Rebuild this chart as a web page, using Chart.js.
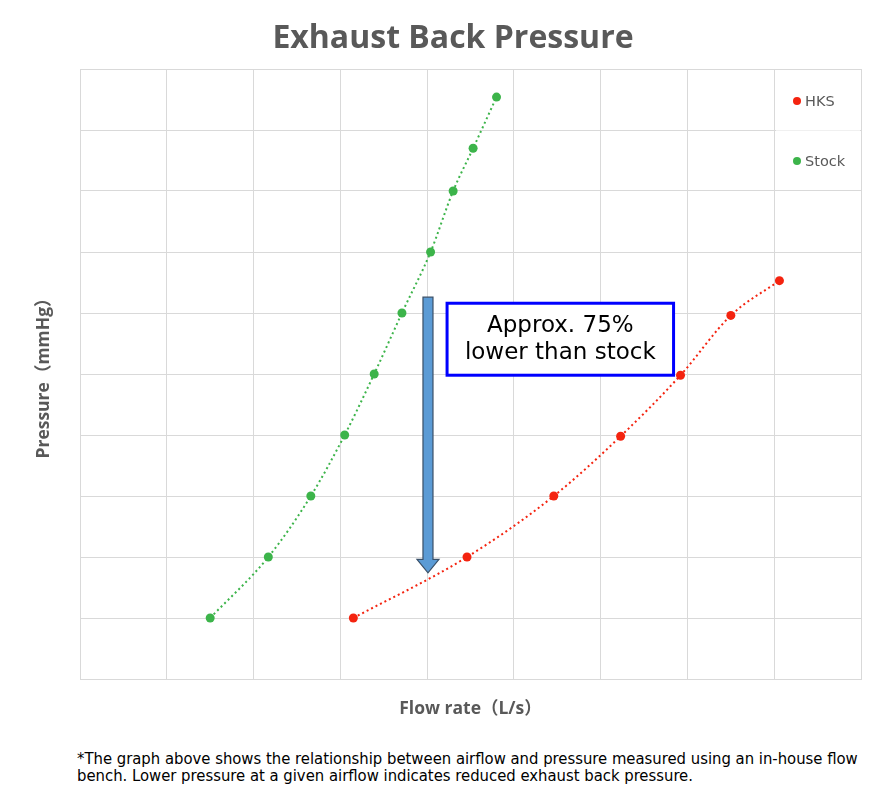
<!DOCTYPE html>
<html><head><meta charset="utf-8">
<script src="https://cdn.jsdelivr.net/npm/chart.js@4"></script>
<style>
html,body{margin:0;padding:0;background:#fff;}
#wrap{position:relative;width:882px;height:800px;overflow:hidden;}
#title{position:absolute;left:0;top:15px;width:906px;text-align:center;font-family:"Open Sans",sans-serif;font-weight:bold;font-size:32px;line-height:42px;color:#595959;}
#chart{position:absolute;left:0;top:0;}
#note{position:absolute;left:77px;top:750px;width:805px;font-family:"Liberation Sans Narrow","DejaVu Sans Condensed",sans-serif;font-size:16.5px;line-height:17px;color:#000;white-space:nowrap;}
</style></head>
<body>
<div id="wrap">
<canvas id="chart" width="882" height="740"></canvas>
<div id="title">Exhaust Back Pressure</div>
<div id="note">*The graph above shows the relationship between airflow and pressure measured using an in-house flow<br>bench. Lower pressure at a given airflow indicates reduced exhaust back pressure.</div>
</div>
<script>
// ---- data (axis units are arbitrary, no tick labels shown) ----
const seriesNames = ['HKS', 'Stock'];
const hksFlow = [31.5, 44.6, 54.6, 62.3, 69.2, 75.0, 80.6];
const hksPressure = [10, 20, 30, 39.8, 49.8, 59.6, 65.3];
const stockFlow = [15.0, 21.7, 26.6, 30.5, 33.9, 37.1, 40.4, 43.0, 45.3, 48.0];
const stockPressure = [10, 20, 30, 40, 50, 60, 70, 80, 87, 95.4];

const toPts = (xs, ys) => xs.map((x, i) => ({x: x, y: ys[i]}));

const RED = '#F4230F', GREEN = '#3CB44A', GRID = '#d9d9d9', TXT = '#595959';
const FONT = '"Open Sans", "Noto Sans CJK JP", sans-serif';

const arrowAnno = {flow: 40.1, from: 62.6, to: 17.4, head: 19.6};
const boxAnno = {x1: 42.3, x2: 68.4, y1: 61.6, y2: 49.8, lines: ['Approx. 75%', 'lower than stock']};

const legendPlugin = {
  id: 'insideLegend',
  afterDraw(chart) {
    const {ctx, chartArea} = chart;
    ctx.save();
    ctx.fillStyle = 'rgba(255,255,255,0.6)';
    ctx.fillRect(chartArea.right - 85, chartArea.top + 1, 84, 115);
    chart.data.datasets.forEach((ds, i) => {
      const y = chartArea.top + 32 + i * 60;
      const x = chartArea.right - 64;
      ctx.beginPath();
      ctx.arc(x, y, 4, 0, Math.PI * 2);
      ctx.fillStyle = ds.backgroundColor;
      ctx.fill();
      ctx.fillStyle = TXT;
      ctx.font = '14.5px "DejaVu Sans", sans-serif';
      ctx.textBaseline = 'middle';
      ctx.textAlign = 'left';
      ctx.fillText(ds.label, x + 8, y + 1);
    });
    ctx.restore();
  }
};

const annoPlugin = {
  id: 'annotations',
  afterDatasetsDraw(chart) {
    const {ctx, scales: {x, y}} = chart;
    ctx.save();
    // arrow
    const cx = x.getPixelForValue(arrowAnno.flow);
    const yTop = y.getPixelForValue(arrowAnno.from);
    const yTip = y.getPixelForValue(arrowAnno.to);
    const yHead = y.getPixelForValue(arrowAnno.head);
    const sw = 5, hw = 11;
    ctx.beginPath();
    ctx.moveTo(cx - sw, yTop);
    ctx.lineTo(cx + sw, yTop);
    ctx.lineTo(cx + sw, yHead);
    ctx.lineTo(cx + hw, yHead);
    ctx.lineTo(cx, yTip);
    ctx.lineTo(cx - hw, yHead);
    ctx.lineTo(cx - sw, yHead);
    ctx.closePath();
    ctx.fillStyle = '#5B9BD5';
    ctx.fill();
    ctx.strokeStyle = '#3A5068';
    ctx.lineWidth = 1.2;
    ctx.stroke();
    // box
    const bx1 = x.getPixelForValue(boxAnno.x1), bx2 = x.getPixelForValue(boxAnno.x2);
    const by1 = y.getPixelForValue(boxAnno.y1), by2 = y.getPixelForValue(boxAnno.y2);
    ctx.fillStyle = '#fff';
    ctx.fillRect(bx1, by1, bx2 - bx1, by2 - by1);
    ctx.strokeStyle = '#0000FF';
    ctx.lineWidth = 3;
    ctx.strokeRect(bx1, by1, bx2 - bx1, by2 - by1);
    ctx.fillStyle = '#000';
    ctx.font = '23px "DejaVu Sans", sans-serif';
    ctx.textAlign = 'center';
    ctx.textBaseline = 'middle';
    const mx = (bx1 + bx2) / 2, my = (by1 + by2) / 2;
    ctx.fillText(boxAnno.lines[0], mx, my - 13);
    ctx.fillText(boxAnno.lines[1], mx, my + 14);
    ctx.restore();
  }
};

const mkDs = (label, pts, color) => ({
  label: label,
  data: pts,
  showLine: true,
  borderColor: color,
  backgroundColor: color,
  borderWidth: 2,
  borderDash: [2, 3],
  tension: 0.4,
  cubicInterpolationMode: 'monotone',
  pointRadius: 4.5,
  pointHoverRadius: 4.5,
  pointBackgroundColor: color,
  pointBorderWidth: 0
});

new Chart(document.getElementById('chart'), {
  type: 'scatter',
  data: {
    datasets: [
      mkDs(seriesNames[0], toPts(hksFlow, hksPressure), RED),
      mkDs(seriesNames[1], toPts(stockFlow, stockPressure), GREEN)
    ]
  },
  options: {
    responsive: false,
    animation: false,
    layout: {padding: {top: 69, right: 21, left: 0, bottom: 0}},
    plugins: {legend: {display: false}, title: {display: false}, tooltip: {enabled: false}},
    scales: {
      x: {
        type: 'linear', min: 0, max: 90,
        ticks: {display: false, stepSize: 10},
        grid: {color: GRID, drawTicks: false},
        border: {color: GRID},
        title: {display: true, text: 'Flow rate（L/s）', color: TXT, font: {family: FONT, size: 17.5, weight: 'bold'}, padding: {top: 20, bottom: 20}},
        afterFit(s) { s.height = 61; }
      },
      y: {
        type: 'linear', min: 0, max: 100,
        ticks: {display: false, stepSize: 10},
        grid: {color: GRID, drawTicks: false},
        border: {color: GRID},
        title: {display: true, text: 'Pressure（mmHg）', color: TXT, font: {family: FONT, size: 17.5, weight: 'bold'}, padding: {top: 34, bottom: 34}},
        afterFit(s) { s.width = 80; }
      }
    }
  },
  plugins: [annoPlugin, legendPlugin]
});
</script>
</body></html>
